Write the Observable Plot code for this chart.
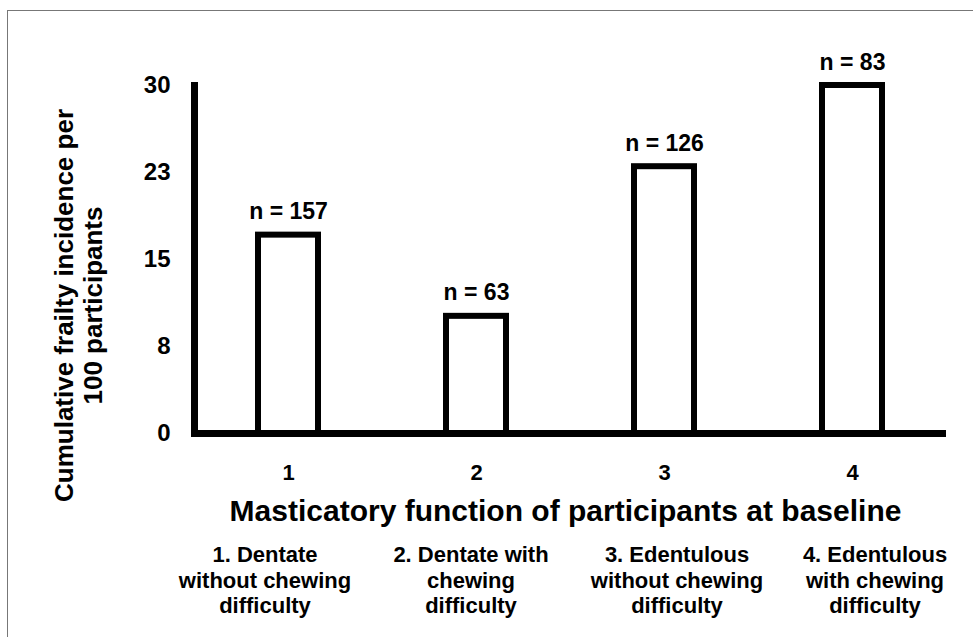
<!DOCTYPE html>
<html><head><meta charset="utf-8">
<script src="https://cdn.jsdelivr.net/npm/d3@7"></script>
<script src="https://cdn.jsdelivr.net/npm/@observablehq/plot@0.6"></script>
<style>
body{margin:0;background:#fff;width:973px;height:637px;overflow:hidden;position:relative;font-family:"Liberation Sans",Arial,sans-serif;}
#chart svg{display:block;}
#border{position:absolute;left:7px;top:10px;width:1000px;height:700px;border:1.5px solid #777;box-sizing:border-box;pointer-events:none;}
#captions{display:grid;grid-template-columns:206px 206px 206px 190px;margin-left:162px;font-weight:bold;font-size:22px;line-height:25.5px;text-align:center;color:#000;white-space:pre-line;}
</style></head><body>
<div id="chart"></div>
<div id="captions"></div>
<div id="border"></div>
<script>
const groups = ["1", "2", "3", "4"];
const incidence = [17.1, 10.1, 23.0, 30.0];
const sampleSizes = [157, 63, 126, 83];
const groupDescriptions = [
  "1. Dentate\nwithout chewing\ndifficulty",
  "2. Dentate with\nchewing\ndifficulty",
  "3. Edentulous\nwithout chewing\ndifficulty",
  "4. Edentulous\nwith chewing\ndifficulty"
];
const yTicks = [0, 7.5, 15, 22.5, 30];
const yTickLabels = ["0", "8", "15", "23", "30"];
const yTitle = "Cumulative frailty incidence per\n100 participants";
const xTitle = "Masticatory function of participants at baseline";

const data = groups.map((g, i) => ({group: g, value: incidence[i], n: sampleSizes[i]}));

const plot = Plot.plot({
  width: 973, height: 542,
  marginTop: 85, marginBottom: 109, marginLeft: 194, marginRight: 27,
  style: {fontFamily: '"Liberation Sans", Arial, sans-serif', background: "transparent", color: "#000"},
  x: {domain: groups, paddingInner: 0.68, paddingOuter: 0.34},
  y: {domain: [0, 30]},
  marks: [
    Plot.axisY({ticks: yTicks, tickFormat: (d) => yTickLabels[yTicks.indexOf(d)], tickSize: 0, tickPadding: 24, fontSize: 24, fontWeight: "bold", label: null}),
    Plot.axisX({tickSize: 0, tickPadding: 31, fontSize: 22, fontWeight: "bold", label: null}),
    Plot.barY(data, {x: "group", y: "value", fill: "white", stroke: "black", strokeWidth: 6, inset: 0}),
    Plot.frame({anchor: "left", stroke: "black", strokeWidth: 7}),
    Plot.ruleY([0], {stroke: "black", strokeWidth: 7}),
    Plot.text(data, {x: "group", y: "value", text: (d) => `n = ${d.n}`, dy: -16, lineAnchor: "bottom", fontSize: 23, fontWeight: "bold", fill: "black"}),
    Plot.text([yTitle], {frameAnchor: "left", rotate: -90, dx: -116, dy: 46, fontSize: 26, fontWeight: "bold", lineHeight: 1.08, lineAnchor: "middle", textAnchor: "middle", fill: "black"}),
    Plot.text([xTitle], {frameAnchor: "bottom", dx: -5, dy: 66, lineAnchor: "top", fontSize: 30, fontWeight: "bold", fill: "black"})
  ]
});
document.getElementById("chart").appendChild(plot);

const cap = document.getElementById("captions");
groupDescriptions.forEach((t) => {
  const d = document.createElement("div");
  d.textContent = t;
  cap.appendChild(d);
});
</script>
</body></html>
